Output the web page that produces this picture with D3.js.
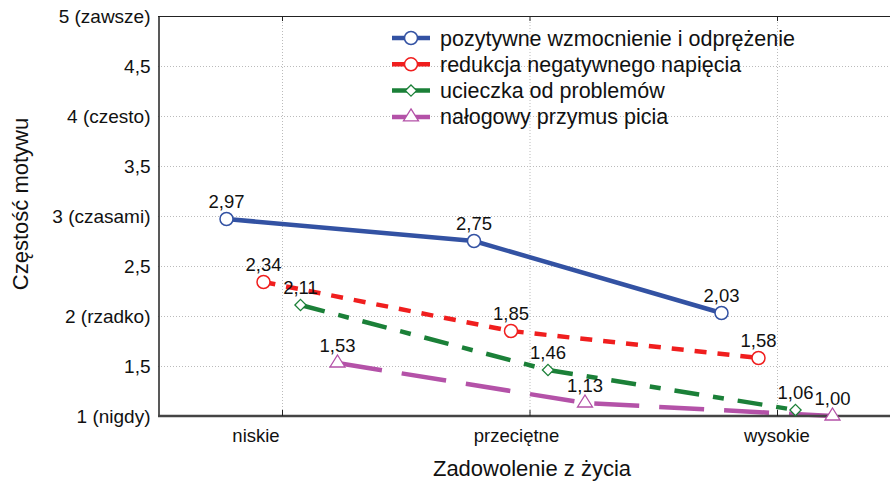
<!DOCTYPE html>
<html>
<head>
<meta charset="utf-8">
<script src="https://cdn.jsdelivr.net/npm/d3@7"></script>
<style>
    body { margin: 0; background: #fff; }
    text { font-family: "Liberation Sans", Arial, sans-serif; }
</style>
</head>
<body>
<svg id="chart" width="890" height="481"></svg>
<script>

const categories = ['niskie', 'przeciętne', 'wysokie']

const seriesNames = [
    'pozytywne wzmocnienie i odprężenie',
    'redukcja negatywnego napięcia',
    'ucieczka od problemów',
    'nałogowy przymus picia'
]

const pozytywne = [2.97, 2.75, 2.03]
const redukcja = [2.34, 1.85, 1.58]
const ucieczka = [2.11, 1.46, 1.06]
const przymus = [1.53, 1.13, 1.00]

const yTicks = [1, 1.5, 2, 2.5, 3, 3.5, 4, 4.5, 5]
const yTickLabels = ['1 (nigdy)', '1,5', '2 (rzadko)', '2,5', '3 (czasami)', '3,5', '4 (czesto)', '4,5', '5 (zawsze)']

const styles = [
    {color: '#3352a3', dash: null, marker: 'circle'},
    {color: '#f01e1e', dash: '12,11', marker: 'circle'},
    {color: '#1b8038', dash: '25,14,11,14', marker: 'diamond'},
    {color: '#b452a8', dash: '45,20', marker: 'triangle'}
]

const allValues = [pozytywne, redukcja, ucieczka, przymus]

const fmt = v => d3.format('.2f')(v).replace('.', ',')

let svg = d3.select('#chart')

let margin = {top: 16, left: 158, bottom: 416, right: 890}

let y = d3.scaleLinear().domain([1, 5]).range([margin.bottom, margin.top])
let x = d3.scalePoint().domain(categories).range([282, 777])
let offset = d3.scalePoint().domain(seriesNames).range([-55.5, 55.5])
// the category labels sit a bit apart from the ticks in the original
let xLabel = d3.scalePoint().domain(categories).range([256, 777])

// grid
svg.append('g')
    .selectAll('line')
    .data(yTicks.slice(1, -1))
    .enter()
    .append('line')
    .attr('x1', margin.left)
    .attr('x2', margin.right)
    .attr('y1', d => y(d) + 0.5)
    .attr('y2', d => y(d) + 0.5)
    .attr('stroke', '#bbb')
    .attr('stroke-dasharray', '1,2')

svg.append('g')
    .selectAll('line')
    .data(categories)
    .enter()
    .append('line')
    .attr('x1', d => x(d) + 0.5)
    .attr('x2', d => x(d) + 0.5)
    .attr('y1', margin.top)
    .attr('y2', margin.bottom)
    .attr('stroke', '#bbb')
    .attr('stroke-dasharray', '1,2')

// frame: top thin line with ticks, left axis
svg.append('line')
    .attr('x1', margin.left).attr('x2', margin.right)
    .attr('y1', margin.top + 0.5).attr('y2', margin.top + 0.5)
    .attr('stroke', '#222').attr('stroke-width', 1.2)

svg.append('g')
    .selectAll('line')
    .data(categories)
    .enter()
    .append('line')
    .attr('x1', d => x(d) + 0.5).attr('x2', d => x(d) + 0.5)
    .attr('y1', margin.top).attr('y2', margin.top + 5)
    .attr('stroke', '#222')

let yAxis = svg.append('g')
    .attr('transform', 'translate(' + (margin.left + 0.5) + ',0)')
    .call(d3.axisLeft(y).tickValues(yTicks).tickSize(0).tickPadding(8)
        .tickFormat((d, i) => yTickLabels[i]))
yAxis.select('.domain').attr('stroke', '#222').attr('stroke-width', 1.5)
yAxis.selectAll('text')
    .style('font-size', '19px')
    .attr('fill', '#111')
    .style('font-family', '"Liberation Sans", Arial, sans-serif')

// series
allValues.forEach((values, s) => {
    let name = seriesNames[s]
    let st = styles[s]
    let pts = values.map((v, i) => [x(categories[i]) + offset(name), y(v)])

    svg.append('path')
        .attr('d', d3.line()(pts))
        .attr('fill', 'none')
        .attr('stroke', st.color)
        .attr('stroke-width', 4.5)
        .attr('stroke-dasharray', st.dash)
})

// bottom axis drawn above the lines
svg.append('line')
    .attr('x1', margin.left).attr('x2', margin.right)
    .attr('y1', margin.bottom).attr('y2', margin.bottom)
    .attr('stroke', '#444').attr('stroke-width', 2.5)

svg.append('g')
    .selectAll('line')
    .data(categories)
    .enter()
    .append('line')
    .attr('x1', d => x(d) + 0.5).attr('x2', d => x(d) + 0.5)
    .attr('y1', margin.bottom).attr('y2', margin.bottom - 6)
    .attr('stroke', '#222')

const drawMarker = (g, type, cx, cy, color) => {
    if (type === 'circle') {
        g.append('circle')
            .attr('cx', cx).attr('cy', cy).attr('r', 6.5)
            .attr('fill', '#fff').attr('stroke', color).attr('stroke-width', 1.5)
    } else if (type === 'diamond') {
        g.append('path')
            .attr('d', d3.symbol().type(d3.symbolDiamond2).size(80)())
            .attr('transform', 'translate(' + cx + ',' + cy + ')')
            .attr('fill', '#fff').attr('stroke', color).attr('stroke-width', 1.3)
    } else {
        g.append('path')
            .attr('d', 'M0,-8L7.5,4L-7.5,4Z')
            .attr('transform', 'translate(' + cx + ',' + cy + ')')
            .attr('fill', '#fff').attr('stroke', color).attr('stroke-width', 1.3)
    }
}

allValues.forEach((values, s) => {
    let name = seriesNames[s]
    let st = styles[s]
    let g = svg.append('g')
    values.forEach((v, i) => {
        let cx = x(categories[i]) + offset(name)
        drawMarker(g, st.marker, cx, y(v), st.color)
        g.append('text')
            .attr('x', cx)
            .attr('y', y(v) - 11)
            .attr('text-anchor', 'middle')
            .style('font-size', '18.5px')
            .attr('fill', '#111')
            .text(fmt(v))
    })
})

// category labels
svg.append('g')
    .selectAll('text')
    .data(categories)
    .enter()
    .append('text')
    .attr('x', d => xLabel(d))
    .attr('y', 442)
    .attr('text-anchor', 'middle')
    .style('font-size', '18.5px')
    .attr('fill', '#111')
    .text(d => d)

// axis titles
svg.append('text')
    .attr('x', 532)
    .attr('y', 476)
    .attr('text-anchor', 'middle')
    .style('font-size', '22px')
    .attr('fill', '#111')
    .text('Zadowolenie z życia')

svg.append('text')
    .attr('transform', 'translate(28,204) rotate(-90)')
    .attr('text-anchor', 'middle')
    .style('font-size', '22px')
    .attr('fill', '#111')
    .text('Częstość motywu')

// legend
let legend = svg.append('g')
    .selectAll('g')
    .data(seriesNames)
    .enter()
    .append('g')
    .attr('transform', (d, i) => 'translate(392,' + (38 + i * 26.3) + ')')

legend.append('line')
    .attr('x1', 0).attr('x2', 38)
    .attr('stroke', (d, i) => styles[i].color)
    .attr('stroke-width', 4.5)

legend.each(function (d, i) {
    drawMarker(d3.select(this), styles[i].marker, 19, 0, styles[i].color)
})

legend.append('text')
    .attr('x', 48)
    .attr('dy', '0.35em')
    .style('font-size', '21.5px')
    .attr('fill', '#111')
    .text(d => d)

</script>
</body>
</html>
